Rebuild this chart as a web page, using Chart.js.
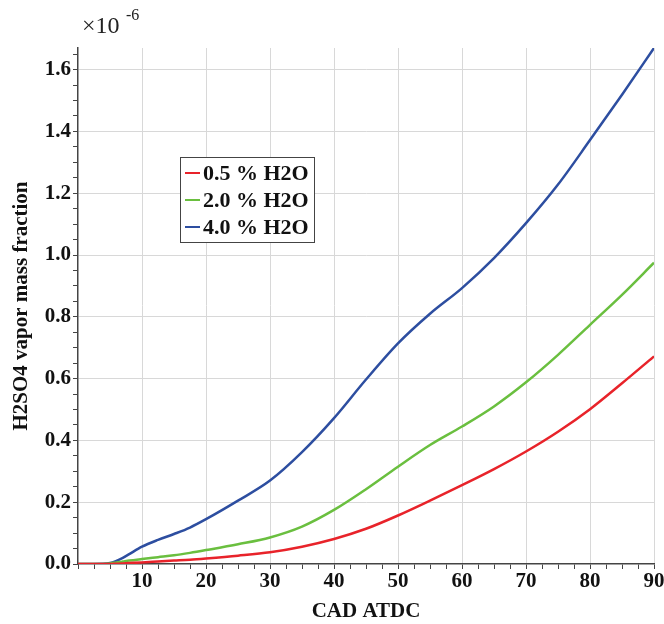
<!DOCTYPE html>
<html>
<head>
<meta charset="utf-8">
<script src="https://cdn.jsdelivr.net/npm/chart.js@4.4.1/dist/chart.umd.min.js"></script>
<style>
  html, body { margin: 0; padding: 0; background: #fff; }
  #wrap { width: 664px; height: 624px; }
</style>
</head>
<body>
<div id="wrap"><canvas id="c"></canvas></div>
<script>
// crank angle (deg ATDC)
const cad = [0, 2.5, 5, 6, 7, 8, 10, 12.5, 15, 17.5, 20, 25, 30, 35, 40, 45, 50, 55, 60, 65, 70, 75, 80, 85, 90];
// H2SO4 vapor mass fraction, x 1e-6
const h2o05 = [0, 0, 0, 0.001, 0.002, 0.003, 0.005, 0.008, 0.011, 0.014, 0.018, 0.027, 0.038, 0.056, 0.081, 0.114, 0.157, 0.205, 0.255, 0.307, 0.364, 0.428, 0.501, 0.585, 0.672];
const h2o20 = [0, 0, 0.002, 0.005, 0.008, 0.011, 0.016, 0.022, 0.028, 0.036, 0.045, 0.064, 0.086, 0.121, 0.175, 0.242, 0.315, 0.385, 0.445, 0.51, 0.588, 0.677, 0.774, 0.871, 0.975];
const h2o40 = [0, 0, 0.003, 0.01, 0.02, 0.032, 0.056, 0.078, 0.097, 0.118, 0.145, 0.205, 0.27, 0.362, 0.472, 0.597, 0.714, 0.81, 0.893, 0.99, 1.103, 1.228, 1.372, 1.519, 1.67];
const seriesLabels = ['0.5 % H2O', '2.0 % H2O', '4.0 % H2O'];
const seriesColors = ['#e8232a', '#6abf3f', '#2d4ea0'];

const FONT = '"Liberation Serif", "Times New Roman", serif';

function pts(ys) {
  return cad.map((x, i) => ({ x: x, y: ys[i] }));
}

// exponent label + boxed legend inside plot
const extras = {
  id: 'extras',
  afterDraw(chart) {
    const ctx = chart.ctx;
    ctx.save();
    ctx.fillStyle = '#222';
    ctx.textBaseline = 'alphabetic';
    ctx.textAlign = 'left';
    ctx.font = '24px ' + FONT;
    ctx.fillText('\u00d710', 82, 33);
    ctx.font = '16px ' + FONT;
    ctx.fillText('-6', 126, 20);

    // legend
    const bx = 180, by = 157, bw = 134, bh = 85;
    ctx.fillStyle = '#fff';
    ctx.fillRect(bx, by, bw, bh);
    ctx.strokeStyle = '#444';
    ctx.lineWidth = 1;
    ctx.strokeRect(bx + 0.5, by + 0.5, bw, bh);
    ctx.font = 'bold 22px ' + FONT;
    ctx.textBaseline = 'middle';
    chart.data.datasets.forEach((ds, i) => {
      const yy = by + 16 + i * 27;
      ctx.strokeStyle = ds.borderColor;
      ctx.lineWidth = 2;
      ctx.beginPath();
      ctx.moveTo(bx + 5, yy);
      ctx.lineTo(bx + 20, yy);
      ctx.stroke();
      ctx.fillStyle = '#111';
      ctx.fillText(ds.label, bx + 23, yy + 1);
    });
    ctx.restore();
  }
};

const ctx = document.getElementById('c').getContext('2d');
const chart = new Chart(ctx, {
  type: 'line',
  data: {
    datasets: [h2o05, h2o20, h2o40].map((ys, i) => ({
      label: seriesLabels[i],
      data: pts(ys),
      borderColor: seriesColors[i],
      backgroundColor: seriesColors[i],
      borderWidth: 2.5,
      pointRadius: 0,
      cubicInterpolationMode: 'monotone',
      fill: false
    }))
  },
  options: {
    responsive: true,
    maintainAspectRatio: false,
    animation: false,
    layout: { padding: { top: 48, right: 10, left: 0, bottom: 0 } },
    plugins: {
      legend: { display: false },
      tooltip: { enabled: false }
    },
    scales: {
      x: {
        type: 'linear',
        min: 0,
        max: 90,
        afterBuildTicks(scale) {
          const t = [];
          for (let v = 0; v <= 90; v += 2.5) t.push({ value: v });
          scale.ticks = t;
        },
        afterFit(scale) {
          scale.height = 60;
          scale.paddingRight = 0;
        },
        ticks: {
          autoSkip: false,
          maxRotation: 0,
          padding: 0,
          color: '#111',
          font: { family: FONT, size: 21, weight: 'bold' },
          callback: (v) => (v > 0 && v % 10 === 0) ? String(v) : ''
        },
        grid: {
          color: (c) => (c.tick && c.tick.value % 10 === 0 && c.tick.value > 0) ? '#d8d8d8' : 'rgba(0,0,0,0)',
          tickColor: '#444',
          tickLength: 5,
          lineWidth: 1
        },
        border: { color: '#444', width: 1.5 },
        title: {
          display: true,
          text: 'CAD ATDC',
          color: '#111',
          font: { family: FONT, size: 21, weight: 'bold' },
          padding: { top: 0, bottom: 0 }
        }
      },
      y: {
        min: 0,
        max: 1.67,
        afterBuildTicks(scale) {
          const t = [];
          for (let i = 0; i <= 33; i++) t.push({ value: i * 5 / 100 });
          scale.ticks = t;
        },
        afterFit(scale) { scale.width = 78; },
        ticks: {
          autoSkip: false,
          padding: 2,
          color: '#111',
          font: { family: FONT, size: 21, weight: 'bold' },
          callback: (v) => (Math.round(v * 100) % 20 === 0) ? v.toFixed(1) : ''
        },
        grid: {
          color: (c) => (c.tick && Math.round(c.tick.value * 100) % 20 === 0 && c.tick.value > 0) ? '#d8d8d8' : 'rgba(0,0,0,0)',
          tickColor: '#444',
          tickLength: 5,
          lineWidth: 1
        },
        border: { color: '#444', width: 1.5 },
        title: {
          display: true,
          text: 'H2SO4 vapor mass fraction',
          color: '#111',
          font: { family: FONT, size: 21, weight: 'bold' },
          padding: { top: 9, bottom: 0 }
        }
      }
    }
  },
  plugins: [extras]
});
</script>
</body>
</html>
